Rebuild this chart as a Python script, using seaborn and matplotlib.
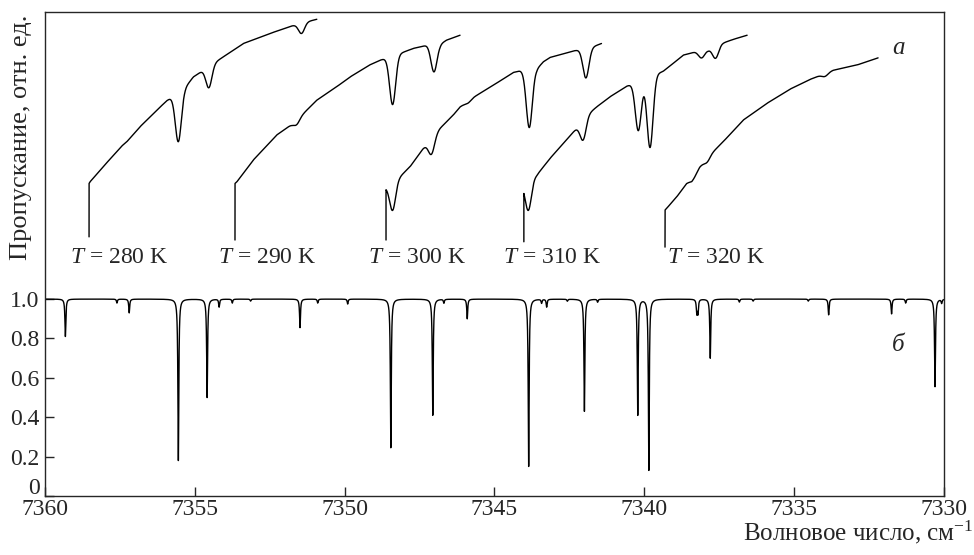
import numpy as np
import pandas as pd
import seaborn as sns
import matplotlib.pyplot as plt
import matplotlib.transforms as mtrans

sns.set_style('ticks')
plt.rcParams['font.family'] = ['Liberation Serif', 'DejaVu Serif']
plt.rcParams['mathtext.fontset'] = 'custom'
plt.rcParams['mathtext.rm'] = 'Liberation Serif'
plt.rcParams['mathtext.it'] = 'Liberation Serif:italic'

# lower spectrum (б): line centres, cm-1, and depths (1 - transmission at centre)
line_pos = [7359.32, 7357.60, 7357.19, 7355.55, 7354.59, 7354.19, 7353.75, 7353.14,
            7351.49, 7350.90, 7349.90, 7348.46, 7347.06, 7346.69, 7345.91, 7343.86,
            7343.43, 7343.26, 7342.57, 7342.00, 7341.56, 7340.22, 7339.85, 7338.25,
            7338.21, 7337.80, 7336.83, 7336.37, 7334.53, 7333.85, 7331.75, 7331.28,
            7330.30, 7330.08]
line_depth = [0.19, 0.02, 0.07, 0.82, 0.50, 0.04, 0.02, 0.01,
              0.145, 0.02, 0.025, 0.755, 0.59, 0.02, 0.10, 0.85,
              0.02, 0.04, 0.01, 0.57, 0.015, 0.59, 0.87, 0.07,
              0.07, 0.30, 0.015, 0.01, 0.01, 0.08, 0.075, 0.02,
              0.445, 0.02]

# upper records (а): start of scan, bottom of the jump, continuum points, dips
temps = ['280', '290', '300', '310', '320']
scan_start = [7358.53, 7353.66, 7348.62, 7344.02, 7339.31]
scan_bottom = [1.316, 1.300, 1.300, 1.291, 1.264]

cont_w_280 = [7358.53, 7358.50, 7358.06, 7357.44, 7357.27, 7356.83, 7356.27, 7355.94,
              7355.33, 7355.05, 7354.74, 7354.18, 7353.38, 7352.49, 7351.77, 7351.27, 7350.93]
cont_y_280 = [1.587, 1.595, 1.672, 1.777, 1.799, 1.875, 1.959, 2.007,
              2.073, 2.128, 2.160, 2.217, 2.298, 2.349, 2.387, 2.408, 2.421]
dip_w_280 = [7355.55, 7354.53, 7351.44]
dip_d_280 = [0.25, 0.108, 0.052]

cont_w_290 = [7353.66, 7353.60, 7353.05, 7352.27, 7351.77, 7351.40, 7350.93, 7350.27,
              7349.82, 7349.18, 7348.82, 7348.16, 7347.71, 7347.26, 7346.82, 7346.60, 7346.15]
cont_y_290 = [1.587, 1.595, 1.706, 1.833, 1.887, 1.939, 2.010, 2.078,
              2.128, 2.188, 2.213, 2.247, 2.273, 2.289, 2.294, 2.315, 2.340]
dip_w_290 = [7351.60, 7348.40, 7347.02]
dip_d_290 = [0.025, 0.247, 0.138]

cont_w_300 = [7348.62, 7348.16, 7347.82, 7347.38, 7346.82, 7346.38, 7346.15, 7345.71,
              7345.04, 7344.37, 7344.15, 7343.59, 7343.37, 7343.15, 7342.37, 7341.76, 7341.43]
cont_y_300 = [1.568, 1.621, 1.672, 1.765, 1.867, 1.934, 1.976, 2.024,
              2.086, 2.151, 2.159, 2.168, 2.205, 2.227, 2.260, 2.279, 2.298]
dip_w_300 = [7348.40, 7347.10, 7345.88, 7343.84, 7341.95]
dip_d_300 = [0.143, 0.08, 0.01, 0.293, 0.150]

cont_w_310 = [7344.02, 7343.59, 7343.15, 7342.71, 7342.21, 7341.87, 7341.59, 7341.15,
              7340.59, 7339.37, 7339.15, 7338.70, 7338.31, 7337.87, 7337.42, 7337.03, 7336.57]
cont_y_310 = [1.585, 1.629, 1.714, 1.790, 1.876, 1.940, 1.976, 2.027,
              2.081, 2.157, 2.183, 2.239, 2.255, 2.264, 2.298, 2.319, 2.340]
dip_w_310 = [7343.87, 7342.04, 7340.20, 7339.81, 7338.09, 7337.62]
dip_d_310 = [0.15, 0.10, 0.25, 0.36, 0.035, 0.06]

cont_w_320 = [7339.31, 7339.26, 7338.92, 7338.59, 7338.42, 7338.15, 7337.76, 7337.37,
              7336.70, 7335.92, 7335.14, 7334.48, 7333.70, 7332.92, 7332.20]
cont_y_320 = [1.452, 1.460, 1.519, 1.587, 1.604, 1.672, 1.740, 1.799,
              1.909, 1.993, 2.066, 2.115, 2.162, 2.188, 2.225]
dip_w_320 = [7338.35, 7337.90, 7333.97]
dip_d_320 = [0.01, 0.02, 0.015]

label_w = [7359.17, 7354.22, 7349.21, 7344.73, 7339.26]
label_y = 1.181

cont_w = [cont_w_280, cont_w_290, cont_w_300, cont_w_310, cont_w_320]
cont_y = [cont_y_280, cont_y_290, cont_y_300, cont_y_310, cont_y_320]
dip_w = [dip_w_280, dip_w_290, dip_w_300, dip_w_310, dip_w_320]
dip_d = [dip_d_280, dip_d_290, dip_d_300, dip_d_310, dip_d_320]

# lower spectrum from the line list (Lorentz profiles)
wn = np.linspace(7360, 7330, 15001)
trans = np.ones_like(wn)
for c, d in zip(line_pos, line_depth):
    trans *= 1 - d / (1 + ((wn - c) / 0.018) ** 2)
df_low = pd.DataFrame({'wn': wn, 'T': trans})

fig = plt.figure(figsize=(9.74, 5.55), dpi=100)
ax = fig.add_axes([0.0462, 0.1063, 0.9230, 0.8721])

sns.lineplot(data=df_low, x='wn', y='T', ax=ax, color='black', lw=1.0,
             sort=False, estimator=None)

for i in range(5):
    cw = np.array(cont_w[i])
    cy = np.array(cont_y[i])
    w = np.linspace(cw[0], cw[-1], 4000)
    y = np.interp(w, cw[::-1], cy[::-1])
    for c, d in zip(dip_w[i], dip_d[i]):
        y = y - d * np.exp(-0.5 * ((w - c) / 0.1) ** 2)
    w = np.concatenate([[scan_start[i]], w])
    y = np.concatenate([[scan_bottom[i]], y])
    sns.lineplot(x=w, y=y, ax=ax, color='black', lw=1.0, sort=False, estimator=None)
    ax.text(label_w[i], label_y, '$T$ = ' + temps[i] + ' K', fontsize=17,
            ha='left', va='baseline')

ax.text(7331.53, 2.275, 'а', fontsize=18, style='italic', ha='center', va='center')
ax.text(7331.53, 0.766, 'б', fontsize=18, style='italic', ha='center', va='center')

ax.set_xlim(7360, 7330)
ax.set_ylim(0, 2.458)
ax.set_xticks([7360, 7355, 7350, 7345, 7340, 7335, 7330])
ax.set_yticks([0, 0.2, 0.4, 0.6, 0.8, 1.0])
ax.set_yticklabels(['0', '0.2', '0.4', '0.6', '0.8', '1.0'])
ax.tick_params(direction='in', length=6.5, width=1, labelsize=17,
               top=False, right=False)
ax.tick_params(axis='x', pad=2)
ax.tick_params(axis='y', pad=4)
ax.set_xlabel('')
ax.set_ylabel('')
for s in ax.spines.values():
    s.set_linewidth(1.0)
    s.set_visible(True)

# y tick labels centred on the digits, the "0" lifted a little as in the original
for lab in ax.get_yticklabels():
    lab.set_verticalalignment('center_baseline')
zero = ax.get_yticklabels()[0]
zero.set_transform(zero.get_transform() +
                   mtrans.ScaledTranslation(0, 10 / 100, fig.dpi_scale_trans))

fig.text(0.022, 0.753, 'Пропускание, отн. ед.', rotation=90, ha='center',
         va='center', fontsize=19)
fig.text(0.999, 0.027, 'Волновое число, см$^{-1}$', ha='right', va='baseline',
         fontsize=18)

fig.savefig('out.png', dpi=100)
